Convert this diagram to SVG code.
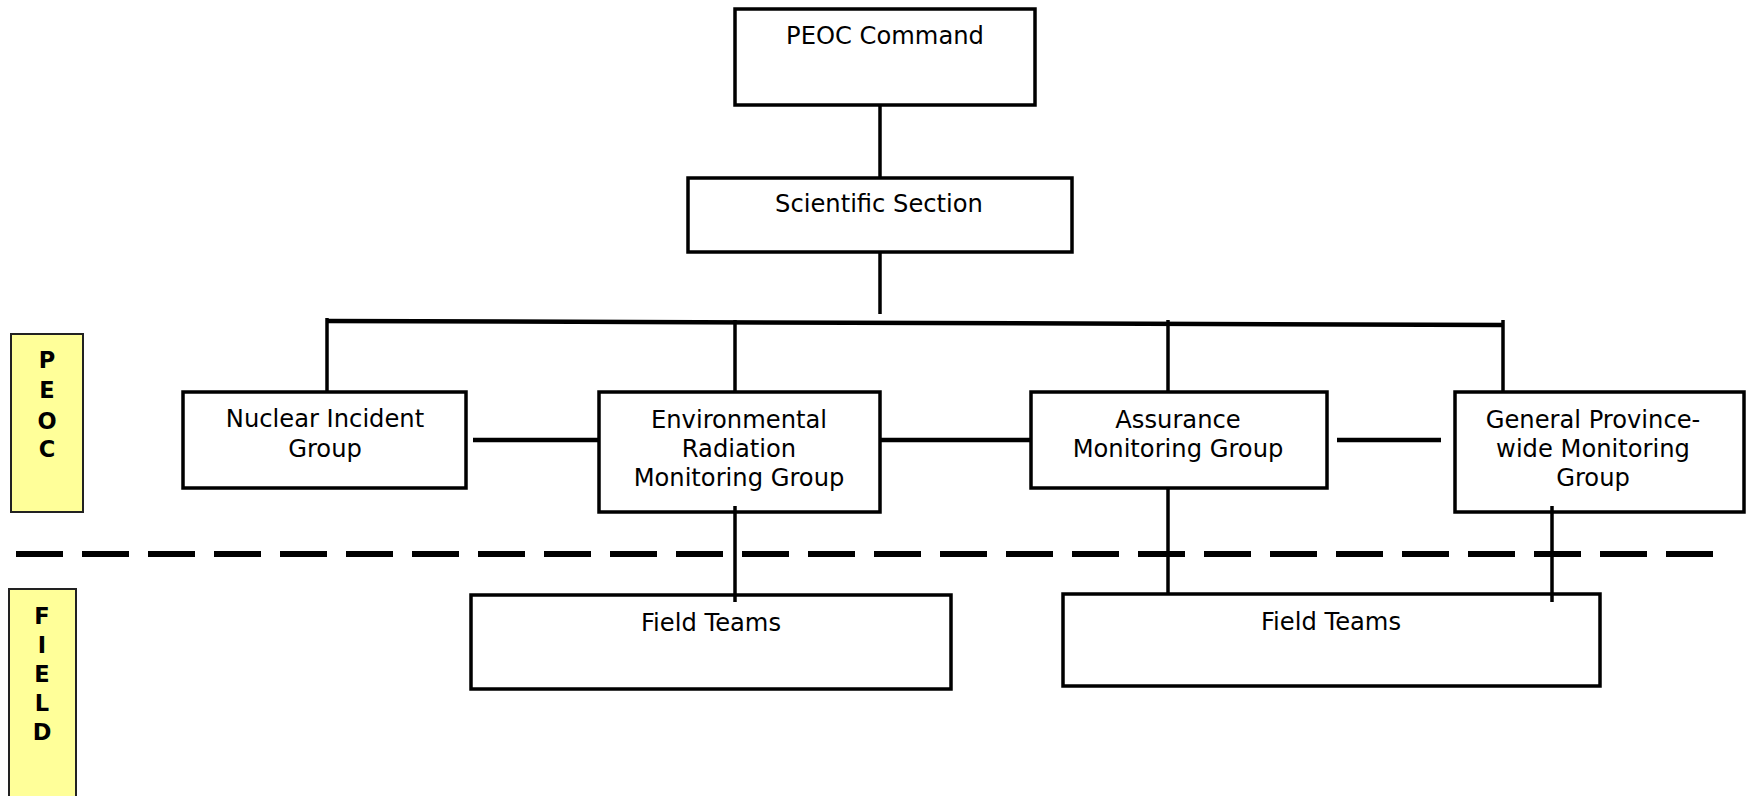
<svg xmlns="http://www.w3.org/2000/svg" width="1751" height="796" viewBox="0 0 1751 796">
<style>
.box{fill:#fff;stroke:#000;stroke-width:3.5}
.lbl{fill:#ffff99;stroke:#222;stroke-width:2}
.t{font-family:"DejaVu Sans",Verdana,sans-serif;font-size:24.2px;fill:#000;text-anchor:middle}
.b{font-family:"DejaVu Sans",Verdana,sans-serif;font-size:22.5px;font-weight:bold;fill:#000;text-anchor:middle}
.c{stroke:#000;stroke-width:3.5;fill:none}
.h{stroke:#000;stroke-width:4.5;fill:none}
</style>
<rect width="1751" height="796" fill="#fff"/>
<g id="connectors">
<line class="c" x1="880" y1="105" x2="880" y2="178"/>
<line class="c" x1="880" y1="252" x2="880" y2="314"/>
<line class="h" x1="327" y1="321" x2="1503" y2="325"/>
<line class="c" x1="327" y1="318" x2="327" y2="397"/>
<line class="c" x1="735" y1="320" x2="735" y2="392"/>
<line class="c" x1="1168" y1="320" x2="1168" y2="392"/>
<line class="c" x1="1503" y1="320" x2="1503" y2="392"/>
<line class="h" x1="473" y1="440" x2="601" y2="440"/>
<line class="h" x1="880" y1="440" x2="1034" y2="440"/>
<line class="h" x1="1337" y1="440" x2="1441" y2="440"/>
<line x1="16" y1="554" x2="1714" y2="554" stroke="#000" stroke-width="6" stroke-dasharray="47 19"/>
</g>
<g id="peoc-label"><rect class="lbl" x="11" y="334" width="72" height="178"/>
<text class="b" x="47" y="368">P</text><text class="b" x="47" y="398">E</text><text class="b" x="47" y="429">O</text><text class="b" x="47" y="457">C</text></g>
<g id="field-label"><rect class="lbl" x="9" y="589" width="67" height="220"/>
<text class="b" x="42" y="624">F</text><text class="b" x="42" y="653">I</text><text class="b" x="42" y="682">E</text><text class="b" x="42" y="711">L</text><text class="b" x="42" y="740">D</text></g>
<g id="peoc-command"><rect class="box" x="735" y="9" width="300" height="96"/><text class="t" x="885" y="44">PEOC Command</text></g>
<g id="scientific-section"><rect class="box" x="688" y="178" width="384" height="74"/><text class="t" x="879" y="212">Scientific Section</text></g>
<g id="nuclear-incident"><rect class="box" x="183" y="392" width="283" height="96"/><text class="t" x="325" y="427">Nuclear Incident</text><text class="t" x="325" y="457">Group</text></g>
<g id="environmental"><rect class="box" x="599" y="392" width="281" height="120"/><text class="t" x="739" y="428">Environmental</text><text class="t" x="739" y="457">Radiation</text><text class="t" x="739" y="486">Monitoring Group</text></g>
<g id="assurance"><rect class="box" x="1031" y="392" width="296" height="96"/><text class="t" x="1178" y="428">Assurance</text><text class="t" x="1178" y="457">Monitoring Group</text></g>
<g id="general"><rect class="box" x="1455" y="392" width="289" height="120"/><text class="t" x="1593" y="428">General Province-</text><text class="t" x="1593" y="457">wide Monitoring</text><text class="t" x="1593" y="486">Group</text></g>
<g id="field-teams-1"><rect class="box" x="471" y="595" width="480" height="94"/><text class="t" x="711" y="631">Field Teams</text></g>
<g id="field-teams-2"><rect class="box" x="1063" y="594" width="537" height="92"/><text class="t" x="1331" y="630">Field Teams</text></g>
<g id="overlap-connectors">
<line class="c" x1="735" y1="506" x2="735" y2="602"/>
<line class="c" x1="1168" y1="488" x2="1168" y2="594"/>
<line class="c" x1="1552" y1="506" x2="1552" y2="602"/>
</g>
</svg>
